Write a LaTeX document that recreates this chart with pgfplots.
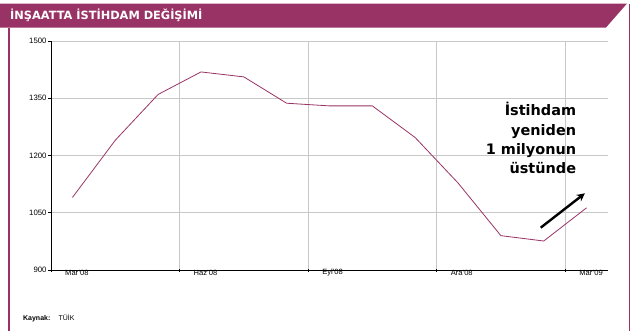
\documentclass[border=0pt]{standalone}
\usepackage{pgfplots}
\pgfplotsset{compat=1.18}
\usetikzlibrary{arrows.meta}
\usepackage{fontspec}
\setmainfont{Liberation Sans}
\newfontfamily\verd{DejaVu Sans}
\definecolor{plum}{RGB}{153,51,102}
\definecolor{gridgray}{RGB}{200,200,200}

\begin{document}
\begin{tikzpicture}
\begin{scope}[x=1bp,y=-1bp]
\useasboundingbox (0,0) rectangle (637,331);
\fill[white] (0,0) rectangle (637,331);
\fill[plum] (0,3.5) -- (627,3.5) -- (606,27.5) -- (0,27.5) -- cycle;
\draw[plum, line width=1.5bp] (9,27.5) -- (9,331);
\draw[plum, line width=1.5bp] (629.5,4) -- (629.5,331);
\node[anchor=west, text=white, inner sep=0, font=\verd\bfseries\fontsize{11.4}{13}\selectfont] at (10,15.5) {İNŞAATTA İSTİHDAM DEĞİŞİMİ};
\node[anchor=base west, font=\fontsize{7}{8}\selectfont, inner sep=0] at (23,320.5) {\textbf{Kaynak:}\hspace{1.2em}TÜİK};
\end{scope}

\begin{axis}[
  at={(51bp,-270bp)}, anchor=south west,
  width=557bp, height=229bp, scale only axis,
  xmin=-0.5, xmax=12.5, ymin=900, ymax=1500,
  axis x line*=bottom, axis y line*=left,
  axis line style={black, line width=0.8bp},
  xtick={-0.5,2.5,5.5,8.5,11.5},
  xticklabels={Mar'08,Haz'08,Eyl'08,Ara'08,Mar'09},
  ytick={900,1050,1200,1350,1500},
  xmajorgrids, ymajorgrids,
  grid style={gridgray, line width=0.8bp},
  major tick length=3bp,
  x tick style={black, line width=0.6bp},
  y tick style={black, line width=0.6bp},
  xtick align=center, ytick align=outside,
  /pgf/number format/1000 sep={},
  /pgf/number format/assume math mode=true,
  xticklabel style={anchor=west, xshift=14bp, yshift=-1.5bp, inner sep=0, font=\fontsize{7.6}{8}\selectfont},
  yticklabel style={font=\fontsize{7.8}{8}\selectfont, xshift=2bp},
]
\addplot[plum, line width=0.8bp, mark=none] coordinates {
 (0,1090) (1,1240) (2,1360) (3,1419) (4,1406) (5,1337) (6,1330)
 (7,1330) (8,1247) (9,1128) (10,990) (11,976) (12,1063)};
\node[anchor=north east, align=right, inner sep=0, font=\verd\bfseries\fontsize{14.5}{19.5}\selectfont] at (axis cs:11.76,1340) {İstihdam\\yeniden\\1 milyonun\\üstünde};
\draw[black, line width=2.4bp, -{Stealth[length=8bp,width=8bp]}] (axis cs:10.93,1011) -- (axis cs:11.96,1101);
\end{axis}
\end{tikzpicture}
\end{document}
